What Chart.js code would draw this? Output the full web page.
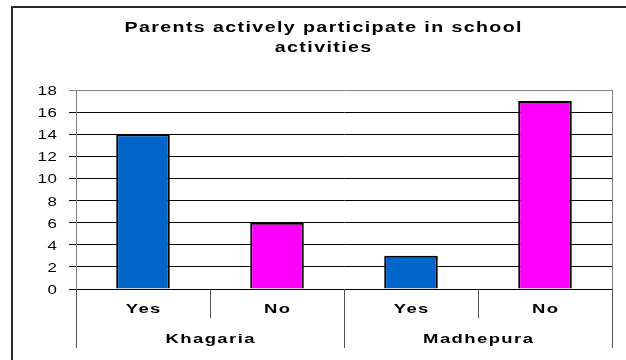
<!DOCTYPE html>
<html>
<head>
<meta charset="utf-8">
<script src="https://cdn.jsdelivr.net/npm/chart.js@4/dist/chart.umd.min.js"></script>
<style>
  html, body { margin: 0; padding: 0; background: #fff; }
  canvas { display: block; }
</style>
</head>
<body>
<canvas id="c" width="626" height="360"></canvas>
<script>
// Survey answers per district
const titleLines = ['Parents actively participate in school', 'activities'];
const responses = ['Yes', 'No', 'Yes', 'No'];
const districts = ['Khagaria', 'Madhepura'];
const counts = [14, 6, 3, 17];
const barColors = ['#0066CC', '#FF00FF', '#0066CC', '#FF00FF'];
const yMax = 18;
const yStep = 2;

const FONT = '"Liberation Sans", Arial, sans-serif';

// Text in this chart is drawn wide and airy, like an office-document export
function wideText(ctx, text, x, y, opts) {
  const sx = opts.sx || 1.4;
  const ls = opts.ls || 0;
  ctx.save();
  ctx.font = opts.font;
  ctx.fillStyle = opts.color || '#000';
  ctx.textBaseline = opts.baseline || 'alphabetic';
  ctx.letterSpacing = ls + 'px';
  const w = (ctx.measureText(text).width - ls) * sx;
  let left = x;
  if (opts.align === 'center') left = x - w / 2;
  else if (opts.align === 'right') left = x - w;
  ctx.translate(left, y);
  ctx.scale(sx, 1);
  ctx.textAlign = 'left';
  ctx.fillText(text, 0, 0);
  ctx.restore();
}

const decorations = {
  id: 'decorations',
  afterDraw(chart) {
    const ctx = chart.ctx;
    const area = chart.chartArea;
    const xs = chart.scales.x;
    const ys = chart.scales.y;

    // frame around the whole chart (only left and top edges fall on the canvas)
    ctx.save();
    ctx.strokeStyle = '#2a2a2a';
    ctx.lineWidth = 2;
    ctx.beginPath();
    ctx.moveTo(12, 360);
    ctx.lineTo(12, 7);
    ctx.lineTo(626, 7);
    ctx.stroke();

    // right edge of the plot area
    ctx.strokeStyle = '#808080';
    ctx.lineWidth = 1;
    ctx.beginPath();
    ctx.moveTo(Math.round(area.right) + 0.5, area.top);
    ctx.lineTo(Math.round(area.right) + 0.5, area.bottom);
    ctx.stroke();

    // category dividers below the axis: short within a district, long between
    const n = responses.length;
    const bounds = [];
    for (let i = 0; i <= n; i++) {
      if (i === 0) bounds.push(area.left);
      else if (i === n) bounds.push(area.right);
      else bounds.push((xs.getPixelForTick(i - 1) + xs.getPixelForTick(i)) / 2);
    }
    ctx.strokeStyle = '#555';
    bounds.forEach((bx, i) => {
      const long = i % 2 === 0;
      const px = Math.round(bx) + 0.5;
      ctx.beginPath();
      ctx.moveTo(px, area.bottom);
      ctx.lineTo(px, area.bottom + (long ? 59 : 29));
      ctx.stroke();
    });
    ctx.restore();

    // response labels
    responses.forEach((r, i) => {
      wideText(ctx, r, xs.getPixelForTick(i), area.bottom + 24,
        { font: 'bold 13px ' + FONT, align: 'center', ls: 1, sx: 1.42 });
    });
    // district labels
    districts.forEach((d, g) => {
      const cx = (bounds[g * 2] + bounds[g * 2 + 2]) / 2;
      wideText(ctx, d, cx, area.bottom + 54,
        { font: 'bold 13px ' + FONT, align: 'center', ls: 1, sx: 1.42 });
    });

    // y tick labels
    ys.ticks.forEach(t => {
      wideText(ctx, String(t.value), 57, ys.getPixelForValue(t.value) + 5,
        { font: '13px ' + FONT, align: 'right', ls: 0.5, sx: 1.3 });
    });

    // title
    titleLines.forEach((line, k) => {
      wideText(ctx, line, 323, 32 + k * 20,
        { font: 'bold 14px ' + FONT, align: 'center', ls: 1, sx: 1.4 });
    });
  }
};

new Chart(document.getElementById('c'), {
  type: 'bar',
  data: {
    labels: responses,
    datasets: [{
      data: counts,
      backgroundColor: barColors,
      borderColor: '#000',
      borderWidth: 2,
      barPercentage: 0.4,
      categoryPercentage: 1.0
    }]
  },
  options: {
    responsive: false,
    devicePixelRatio: 1,
    animation: false,
    layout: { padding: { left: 0, right: 14, top: 90, bottom: 0 } },
    plugins: { legend: { display: false }, tooltip: { enabled: false }, title: { display: false } },
    scales: {
      x: {
        grid: { display: false },
        ticks: { display: false },
        border: { display: true, color: '#000', width: 1 },
        afterFit(scale) { scale.height = 71; }
      },
      y: {
        min: 0,
        max: yMax,
        ticks: { stepSize: yStep, display: false },
        grid: {
          color: ctx => (ctx.tick && ctx.tick.value === yMax ? '#808080' : '#000'),
          lineWidth: 1,
          tickLength: 7,
          drawTicks: true
        },
        border: { display: true, color: '#808080', width: 1 },
        afterFit(scale) { scale.width = 76; }
      }
    }
  },
  plugins: [decorations]
});
</script>
</body>
</html>
